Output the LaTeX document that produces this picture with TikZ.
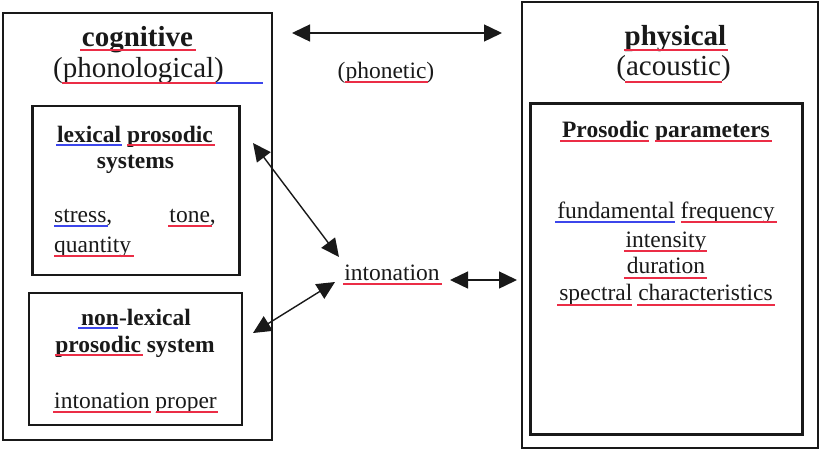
\documentclass[tikz,border=0pt]{standalone}
\usepackage{fontspec}
\setmainfont{Liberation Serif}
\usetikzlibrary{arrows.meta}
\definecolor{sqred}{RGB}{235,45,70}
\definecolor{sqblue}{RGB}{60,70,235}
\definecolor{ink}{RGB}{25,25,25}
\tikzset{
 box/.style={draw=ink, line width=2.8pt, inner sep=0pt},
 ibox/.style={draw=ink, line width=2.2pt, inner sep=0pt},
 title/.style={font=\fontsize{29}{31}\selectfont, text=ink, anchor=base, inner sep=0pt},
 body/.style={font=\fontsize{23.5}{25}\selectfont, text=ink, anchor=base, inner sep=0pt},
 link/.style={draw=ink, line width=1.4pt, {Triangle[length=18pt,width=17pt]}-{Triangle[length=18pt,width=17pt]}},
 rsq/.style={draw=sqred, line width=2pt},
 bsq/.style={draw=sqblue, line width=2pt},
}
\begin{document}
\begin{tikzpicture}[x=1pt,y=-1pt]
\useasboundingbox (0,0) rectangle (821,453);
% boxes
\node[box, minimum width=269pt, minimum height=427pt] (cog) at (137.5,226.5) {};
\node[ibox, minimum width=207pt, minimum height=169pt] (lex) at (136,190.5) {};
\node[ibox, minimum width=213pt, minimum height=132pt] (nonlex) at (135.5,359) {};
\node[box, minimum width=296pt, minimum height=446pt] (phys) at (670,225) {};
\node[ibox, minimum width=272pt, minimum height=331pt] (par) at (666.5,269) {};
% left titles
\node[title, font=\fontsize{29}{31}\selectfont\bfseries] (cogt) at (137.5,46) {cognitive};
\node[title] (phon) at (138.5,77) {(phonological)};
\draw[rsq] (80,49.5) -- (196,49.5);
\draw[rsq] (62,83) -- (216,83);
\draw[bsq] (216,83) -- (263,83);
% lexical
\node[body, font=\fontsize{23.5}{25}\selectfont\bfseries] (lext) at (135,142) {lexical prosodic};
\node[body, font=\fontsize{23.5}{25}\selectfont\bfseries] (syst) at (135.5,168) {systems};
\draw[bsq] (56,145) -- (122,145);
\draw[rsq] (127,145) -- (215,145);
\node[body, anchor=base west] (stress) at (54,222) {stress,};
\node[body, anchor=base east] (tone) at (216,222) {tone,};
\node[body, anchor=base west] (quant) at (54,252) {quantity};
\draw[bsq] (54,225.5) -- (108,225.5);
\draw[rsq] (168,225.5) -- (212,225.5);
\draw[rsq] (54,255.5) -- (134,255.5);
% non-lexical
\node[body, font=\fontsize{23.5}{25}\selectfont\bfseries] (nlt) at (136,325) {non-lexical};
\node[body, font=\fontsize{23.5}{25}\selectfont\bfseries] (pst) at (135,352) {prosodic system};
\draw[bsq] (78,328) -- (118,328);
\draw[rsq] (55,355) -- (143,355);
\node[body] (ip) at (135.5,408) {intonation proper};
\draw[rsq] (53,411.5) -- (151,411.5);
\draw[rsq] (156,411.5) -- (218,411.5);
% middle
\node[body] (phonetic) at (386,78) {(phonetic)};
\draw[rsq] (345,82) -- (428,82);
\node[body] (inton) at (392,280) {intonation};
\draw[rsq] (343,284) -- (442,284);
\coordinate (t1) at (292,33);
\coordinate (t2) at (502,33);
\draw[link] (t1) -- (t2);
\coordinate (i1) at (450,280);
\coordinate (i2) at (517,280);
\draw[link] (i1) -- (i2);
\coordinate (l1) at (253,143);
\coordinate (l2) at (339,257);
\draw[link] (l1) -- (l2);
\coordinate (n1) at (253,333);
\coordinate (n2) at (335,282);
\draw[link] (n1) -- (n2);
% right
\node[title, font=\fontsize{29}{31}\selectfont\bfseries] (physt) at (675.5,45) {physical};
\node[title] (acou) at (673.5,75) {(acoustic)};
\draw[rsq] (624,49.5) -- (728,49.5);
\draw[rsq] (625,82) -- (722,82);
\node[body, font=\fontsize{23.5}{25}\selectfont\bfseries] (part) at (666,137) {Prosodic parameters};
\draw[rsq] (560,141) -- (649,141);
\draw[rsq] (655,141) -- (772,141);
\node[body] (ff) at (666,218) {fundamental frequency};
\draw[bsq] (555,222) -- (675,222);
\draw[rsq] (681,222) -- (777,222);
\node[body] (int) at (666,247) {intensity};
\draw[rsq] (624,251) -- (707,251);
\node[body] (dur) at (666,273) {duration};
\draw[rsq] (624,278) -- (707,278);
\node[body] (spec) at (666,300) {spectral characteristics};
\draw[rsq] (557,305) -- (632,305);
\draw[rsq] (637,305) -- (775,305);
\end{tikzpicture}
\end{document}
